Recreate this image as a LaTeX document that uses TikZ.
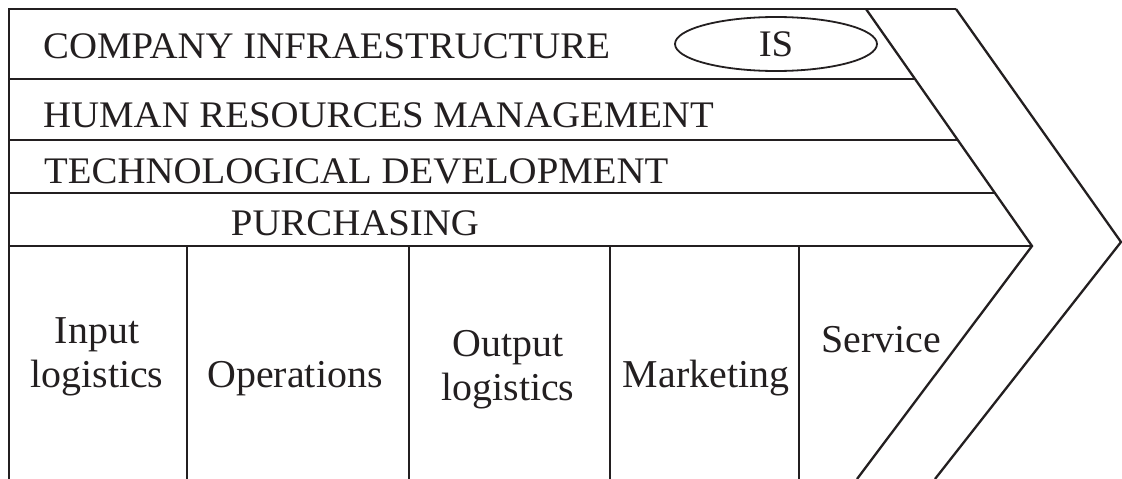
\documentclass[tikz,border=0pt]{standalone}
\usepackage{fontspec}
\setmainfont{Liberation Serif}
\newfontfamily\widefont[FakeStretch=1.035]{Liberation Serif}
\newfontfamily\actfont[FakeStretch=1.01]{Liberation Serif}
\usetikzlibrary{shapes.geometric}
\definecolor{ink}{HTML}{231F20}
\tikzset{
  line/.style={line width=2.3pt, line join=miter, draw=ink},
  toplabel/.style={anchor=base west, inner sep=0pt, text=ink, font=\widefont\fontsize{37.5}{42}\selectfont},
  actlabel/.style={anchor=base, inner sep=0pt, align=center, text=ink, font=\actfont\fontsize{39.5}{44}\selectfont},
  isbox/.style={draw=ink, ellipse, line width=1.8pt, minimum width=202pt, minimum height=54pt, inner sep=0pt, text=ink, font=\widefont\fontsize{37.5}{42}\selectfont}
}
\begin{document}
\begin{tikzpicture}[x=1pt,y=-1pt]
\useasboundingbox (0,0) rectangle (1122,479);
% frame coordinates
\coordinate (tl) at (9,9);
\coordinate (bl) at (9,479);
\coordinate (ia) at (866,9);
\coordinate (it) at (1032,246);
\coordinate (ib) at (857,479);
\coordinate (oa) at (956,9);
\coordinate (ot) at (1121,242);
\coordinate (ob) at (935,479);
\coordinate (r1l) at (9,79);   \coordinate (r1r) at (915,79);
\coordinate (r2l) at (9,140);  \coordinate (r2r) at (958,140);
\coordinate (r3l) at (9,193);  \coordinate (r3r) at (995,193);
\coordinate (r4l) at (9,246);
\foreach \n/\x in {v1/187,v2/409,v3/610,v4/799}{
  \coordinate (\n t) at (\x,246);
  \coordinate (\n b) at (\x,479);
}
% outline
\draw[line] (bl) -- (tl) -- (oa);
\draw[line] (ia) -- (it) -- (ib);
\draw[line] (oa) -- (ot) -- (ob);
\draw[line] (r1l) -- (r1r);
\draw[line] (r2l) -- (r2r);
\draw[line] (r3l) -- (r3r);
\draw[line] (r4l) -- (it);
\foreach \n in {v1,v2,v3,v4}{ \draw[line] (\n t) -- (\n b); }
% support activities
\node[toplabel] (inf) at (43,58) {COMPANY INFRAESTRUCTURE};
\node[isbox] (is) at (776,44) {IS};
\node[toplabel] (hrm) at (43,127) {HUMAN RESOURCES MANAGEMENT};
\node[toplabel] (tec) at (44,183) {TECHNOLOGICAL DEVELOPMENT};
\node[toplabel, anchor=base] (pur) at (355,235) {PURCHASING};
% primary activities (base anchor = last line)
\node[actlabel] (inl) at (97,387) {Input\\logistics};
\node[actlabel] (ops) at (295,387) {Operations};
\node[actlabel] (outl) at (508,400) {Output\\logistics};
\node[actlabel] (mkt) at (706,387) {Marketing};
\node[actlabel] (srv) at (881,352) {Service};
\end{tikzpicture}
\end{document}
